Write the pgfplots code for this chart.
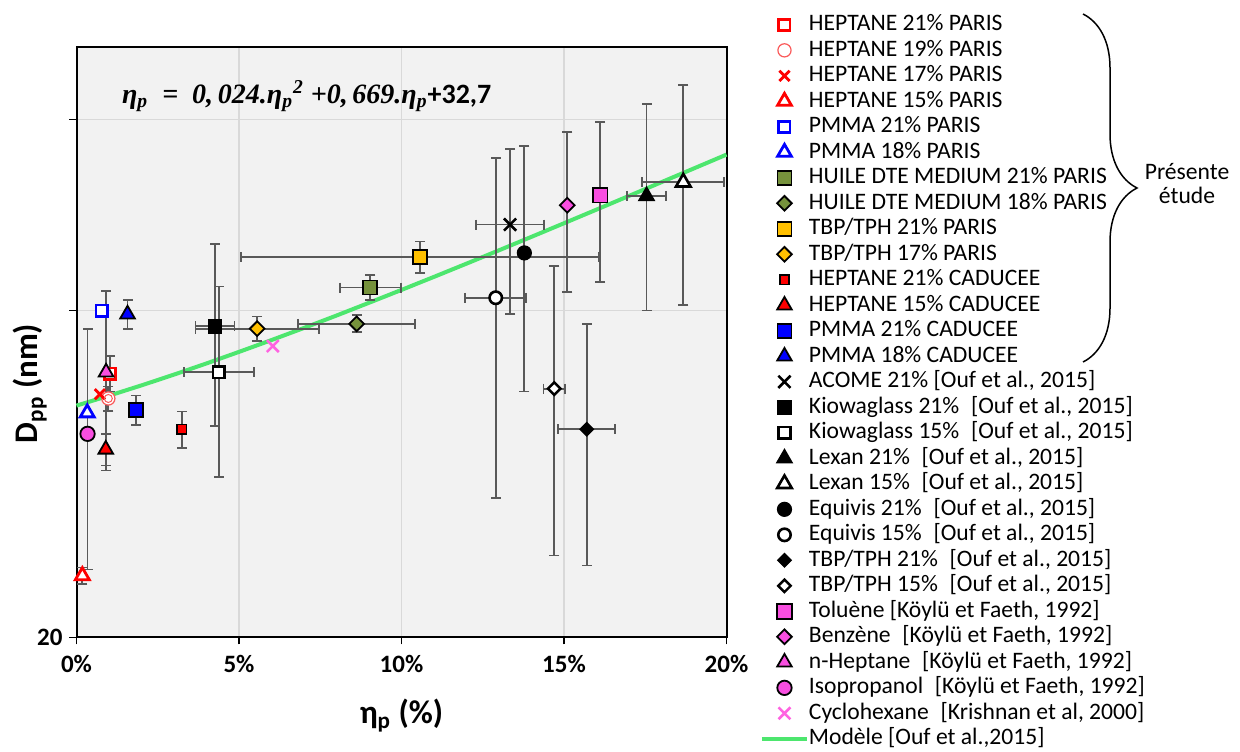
\documentclass[border=0pt]{standalone}
\usepackage{fontspec}
\setmainfont{Carlito}
\newfontfamily\eqfont{Liberation Serif}
\usepackage{pgfplots}
\pgfplotsset{compat=1.18}
\usetikzlibrary{decorations.pathreplacing}
\definecolor{ebgray}{HTML}{595959}
\definecolor{gridgray}{HTML}{D9D9D9}
\definecolor{bggray}{HTML}{F2F2F2}
\definecolor{olivec}{HTML}{76923C}
\definecolor{yellowc}{HTML}{FFC000}
\definecolor{magc}{RGB}{248,78,224}
\definecolor{magx}{RGB}{255,100,225}
\definecolor{greenc}{RGB}{77,230,110}
\definecolor{redc}{HTML}{FF0000}
\definecolor{bluec}{HTML}{0000FF}
\definecolor{redd}{RGB}{250,90,90}
\pgfplotsset{
  ebv/.style={ebgray, line width=0.9pt, mark=-, mark size=2.5pt, forget plot},
  ebh/.style={ebgray, line width=0.9pt, mark=|, mark size=2.5pt, forget plot},
}
\begin{document}
\begin{tikzpicture}
\path[use as bounding box] (0,0) rectangle (620pt,375.5pt);
\begin{axis}[
  at={(38.25pt,56.75pt)}, anchor=south west,
  scale only axis, width=325pt, height=295.4pt,
  xmin=0, xmax=20, ymode=log, ymin=20, ymax=70,
  xtick={0,5,10,15,20},
  xticklabel={\pgfmathprintnumber{\tick}\%},
  ytick={20,40,60}, yticklabels={20,{},{}},
  /pgf/number format/assume math mode=true,
  tick label style={font=\bfseries\fontsize{12.5}{14}\selectfont, black},
  xticklabel style={yshift=-2pt},
  tick align=outside, xtick pos=left, ytick pos=left,
  major tick length=3.5pt,
  tick style={black, line width=0.75pt},
  xmajorgrids, ymajorgrids,
  grid style={gridgray, line width=0.75pt},
  axis line style={black, line width=1pt},
  axis background/.style={fill=bggray},
  xlabel={\textbf{η\textsubscript{p} (\%)}},
  ylabel={\textbf{D\textsubscript{pp} (nm)}},
  label style={font=\fontsize{16.5}{18}\selectfont},
  xlabel style={at={(axis description cs:0.5,-0.132)}, anchor=center},
  ylabel style={at={(axis description cs:-0.0715,0.43)}, anchor=center},
  legend style={at={(axis description cs:1.0515,1.0573)}, anchor=north west,
    draw=none, fill=none, inner sep=0pt, outer sep=0pt,
    font=\fontsize{11.8}{13}\selectfont,
    nodes={inner sep=0pt, text height=9pt, text depth=3pt},
    row sep=0.75pt, column sep=0pt},
  legend cell align=left,
  legend image code/.code={\draw[mark repeat=2,mark phase=2,#1] plot coordinates {(0pt,0pt) (11.25pt,0pt) (22.5pt,0pt)};},
  clip=false,
]
% model
\addplot[greenc, line width=2pt, forget plot] coordinates {
(0,32.7)(1,33.393)(2,34.134)(3,34.923)(4,35.76)(5,36.645)(6,37.578)(7,38.559)(8,39.588)(9,40.665)(10,41.79)(11,42.963)(12,44.184)(13,45.453)(14,46.77)(15,48.135)(16,49.548)(17,51.009)(18,52.518)(19,54.075)(20,55.68)};
% error bars (low and high ends)
\addplot[ebv] coordinates {(1.03,33.7)(1.03,36.3)};
\addplot[ebv] coordinates {(0.98,32.35)(0.98,34.05)};
\addplot[ebv] coordinates {(0.18,22.4)(0.18,23.2)};
\addplot[ebv] coordinates {(9.04,40.9)(9.04,43.1)};
\addplot[ebh] coordinates {(8.10,42.0)(9.98,42.0)};
\addplot[ebv] coordinates {(8.62,38.2)(8.62,39.6)};
\addplot[ebh] coordinates {(6.82,38.9)(10.42,38.9)};
\addplot[ebv] coordinates {(10.57,43.3)(10.57,46.3)};
\addplot[ebh] coordinates {(5.07,44.8)(16.07,44.8)};
\addplot[ebv] coordinates {(5.56,37.5)(5.56,39.5)};
\addplot[ebh] coordinates {(3.66,38.5)(7.46,38.5)};
\addplot[ebv] coordinates {(3.24,29.9)(3.24,32.3)};
\addplot[ebv] coordinates {(0.90,28.8)(0.90,30.8)};
\addplot[ebv] coordinates {(1.82,31.4)(1.82,33.4)};
\addplot[ebv] coordinates {(1.57,38.5)(1.57,40.9)};
\addplot[ebv] coordinates {(13.34,39.7)(13.34,56.3)};
\addplot[ebh] coordinates {(12.29,48.0)(14.39,48.0)};
\addplot[ebv] coordinates {(4.26,31.3)(4.26,46.1)};
\addplot[ebh] coordinates {(3.66,38.7)(4.86,38.7)};
\addplot[ebv] coordinates {(4.38,28.1)(4.38,42.1)};
\addplot[ebh] coordinates {(3.31,35.1)(5.45,35.1)};
\addplot[ebv] coordinates {(17.54,40.0)(17.54,62.0)};
\addplot[ebh] coordinates {(16.94,51.0)(18.14,51.0)};
\addplot[ebv] coordinates {(18.67,40.5)(18.67,64.5)};
\addplot[ebh] coordinates {(17.41,52.5)(19.93,52.5)};
\addplot[ebv] coordinates {(13.78,33.7)(13.78,56.7)};
\addplot[ebv] coordinates {(12.90,26.9)(12.90,55.3)};
\addplot[ebh] coordinates {(11.96,41.1)(13.84,41.1)};
\addplot[ebv] coordinates {(15.70,23.3)(15.70,38.9)};
\addplot[ebh] coordinates {(14.82,31.1)(16.58,31.1)};
\addplot[ebv] coordinates {(14.70,23.8)(14.70,44.0)};
\addplot[ebh] coordinates {(14.37,33.9)(15.03,33.9)};
\addplot[ebv] coordinates {(16.11,42.5)(16.11,59.7)};
\addplot[ebv] coordinates {(15.10,41.6)(15.10,58.4)};
\addplot[ebv] coordinates {(0.91,28.5)(0.91,41.7)};
\addplot[ebv] coordinates {(0.34,23.1)(0.34,38.5)};

% markers
\addplot[only marks, mark=square*, mark size=2.8pt, mark options={draw=redc, fill=white, line width=1.4pt}] coordinates {(1.03,35.0)};
\addlegendentry{HEPTANE 21\% PARIS}
\addplot[only marks, mark=*, mark size=3.3pt, mark options={draw=redd, fill=white, line width=0.6pt}] coordinates {(0.98,33.2)};
\addlegendentry{HEPTANE 19\% PARIS}
\addplot[only marks, mark=x, mark size=3.6pt, mark options={draw=redc, line width=1.4pt}] coordinates {(0.72,33.5)};
\addlegendentry{HEPTANE 17\% PARIS}
\addplot[only marks, mark=triangle*, mark size=4.0pt, mark options={draw=redc, fill=white, line width=1.4pt}] coordinates {(0.18,22.8)};
\addlegendentry{HEPTANE 15\% PARIS}
\addplot[only marks, mark=square*, mark size=2.8pt, mark options={draw=bluec, fill=white, line width=1.4pt}] coordinates {(0.77,40.0)};
\addlegendentry{PMMA 21\% PARIS}
\addplot[only marks, mark=triangle*, mark size=4.0pt, mark options={draw=bluec, fill=white, line width=1.4pt}] coordinates {(0.33,32.2)};
\addlegendentry{PMMA 18\% PARIS}
\addplot[only marks, mark=square*, mark size=3.5pt, mark options={draw=black, fill=olivec, line width=0.9pt}] coordinates {(9.04,42.0)};
\addlegendentry{HUILE DTE MEDIUM 21\% PARIS}
\addplot[only marks, mark=square*, mark size=2.6pt, mark options={draw=black, fill=olivec, line width=0.9pt, rotate=45}] coordinates {(8.62,38.9)};
\addlegendentry{HUILE DTE MEDIUM 18\% PARIS}
\addplot[only marks, mark=square*, mark size=3.5pt, mark options={draw=black, fill=yellowc, line width=0.9pt}] coordinates {(10.57,44.8)};
\addlegendentry{TBP/TPH 21\% PARIS}
\addplot[only marks, mark=square*, mark size=2.6pt, mark options={draw=black, fill=yellowc, line width=0.9pt, rotate=45}] coordinates {(5.56,38.5)};
\addlegendentry{TBP/TPH 17\% PARIS}
\addplot[only marks, mark=square*, mark size=2.3pt, mark options={draw=black, fill=redc, line width=0.8pt}] coordinates {(3.24,31.1)};
\addlegendentry{HEPTANE 21\% CADUCEE}
\addplot[only marks, mark=triangle*, mark size=4.2pt, mark options={draw=black, fill=redc, line width=0.9pt}] coordinates {(0.90,29.8)};
\addlegendentry{HEPTANE 15\% CADUCEE}
\addplot[only marks, mark=square*, mark size=3.5pt, mark options={draw=black, fill=bluec, line width=0.9pt}] coordinates {(1.82,32.4)};
\addlegendentry{PMMA 21\% CADUCEE}
\addplot[only marks, mark=triangle*, mark size=4.2pt, mark options={draw=black, fill=bluec, line width=0.9pt}] coordinates {(1.57,39.7)};
\addlegendentry{PMMA 18\% CADUCEE}
\addplot[only marks, mark=x, mark size=4.3pt, mark options={draw=black, line width=1.3pt}] coordinates {(13.34,48.0)};
\addlegendentry{ACOME 21\% [Ouf et al., 2015]}
\addplot[only marks, mark=square*, mark size=3.4pt, mark options={draw=black, fill=black, line width=0.6pt}] coordinates {(4.26,38.7)};
\addlegendentry{Kiowaglass 21\%\enspace[Ouf et al., 2015]}
\addplot[only marks, mark=square*, mark size=2.9pt, mark options={draw=black, fill=white, line width=1.3pt}] coordinates {(4.38,35.1)};
\addlegendentry{Kiowaglass 15\%\enspace[Ouf et al., 2015]}
\addplot[only marks, mark=triangle*, mark size=4.5pt, mark options={draw=black, fill=black, line width=0.6pt}] coordinates {(17.54,51.0)};
\addlegendentry{Lexan 21\%\enspace[Ouf et al., 2015]}
\addplot[only marks, mark=triangle*, mark size=4.2pt, mark options={draw=black, fill=white, line width=1.3pt}] coordinates {(18.67,52.5)};
\addlegendentry{Lexan 15\%\enspace[Ouf et al., 2015]}
\addplot[only marks, mark=*, mark size=3.5pt, mark options={draw=black, fill=black, line width=0.6pt}] coordinates {(13.78,45.2)};
\addlegendentry{Equivis 21\%\enspace[Ouf et al., 2015]}
\addplot[only marks, mark=*, mark size=3.1pt, mark options={draw=black, fill=white, line width=1.3pt}] coordinates {(12.90,41.1)};
\addlegendentry{Equivis 15\%\enspace[Ouf et al., 2015]}
\addplot[only marks, mark=square*, mark size=2.4pt, mark options={draw=black, fill=black, line width=0.6pt, rotate=45}] coordinates {(15.70,31.1)};
\addlegendentry{TBP/TPH 21\%\enspace[Ouf et al., 2015]}
\addplot[only marks, mark=square*, mark size=2.2pt, mark options={draw=black, fill=white, line width=1.2pt, rotate=45}] coordinates {(14.70,33.9)};
\addlegendentry{TBP/TPH 15\%\enspace[Ouf et al., 2015]}
\addplot[only marks, mark=square*, mark size=3.7pt, mark options={draw=black, fill=magc, line width=0.9pt}] coordinates {(16.11,51.1)};
\addlegendentry{Toluène [Köylü et Faeth, 1992]}
\addplot[only marks, mark=square*, mark size=2.6pt, mark options={draw=black, fill=magc, line width=0.9pt, rotate=45}] coordinates {(15.10,50.0)};
\addlegendentry{Benzène\enspace[Köylü et Faeth, 1992]}
\addplot[only marks, mark=triangle*, mark size=4.2pt, mark options={draw=black, fill=magc, line width=0.9pt}] coordinates {(0.91,35.1)};
\addlegendentry{n-Heptane\enspace[Köylü et Faeth, 1992]}
\addplot[only marks, mark=*, mark size=3.6pt, mark options={draw=black, fill=magc, line width=0.9pt}] coordinates {(0.34,30.8)};
\addlegendentry{Isopropanol\enspace[Köylü et Faeth, 1992]}
\addplot[only marks, mark=x, mark size=4.2pt, mark options={draw=magx, line width=1.3pt}] coordinates {(6.04,37.1)};
\addlegendentry{Cyclohexane\enspace[Krishnan et al, 2000]}
\addlegendimage{greenc, line width=2pt}
\addlegendentry{Modèle [Ouf et al.,2015]}
\addplot[only marks, mark=o, mark size=2.0pt, mark options={draw=redd, line width=0.5pt}, forget plot] coordinates {(0.98,33.2)};
\end{axis}
\node[anchor=west, inner sep=0pt] at (60.85pt,327.5pt) {\fontsize{14}{16}\selectfont\eqfont\bfseries\itshape η\textsubscript{p}\enspace=\enspace0,\,024.η\textsubscript{p}\textsuperscript{2} +0,\,669.η\textsubscript{p}\normalfont\fontsize{14}{16}\selectfont\bfseries +32,7};
\draw[line width=0.75pt, decorate, decoration={brace, amplitude=27pt}] (541.5pt,368.5pt) -- (541.5pt,194.5pt);
\node[align=center] at (593.5pt,283.5pt) {\fontsize{11.8}{14}\selectfont Présente\\\fontsize{11.8}{14}\selectfont étude};
\end{tikzpicture}
\end{document}
